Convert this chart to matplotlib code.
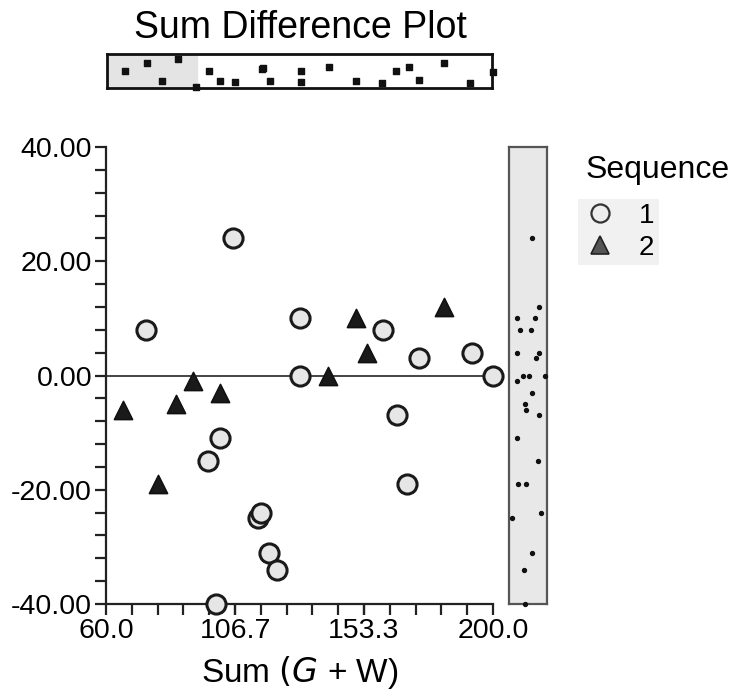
import matplotlib
matplotlib.use("Agg")
import matplotlib.pyplot as plt
from matplotlib.lines import Line2D
import numpy as np

plt.rcParams['font.family'] = ['Liberation Sans', 'DejaVu Sans']

# ---- data ----
seq1_sum = [74.4, 106.1, 130.2, 130.2, 160.3, 173.4, 192.4, 200.0, 165.2,
            169.0, 101.2, 97.0, 115.1, 116.1, 119.0, 122.0, 99.8]
seq1_diff = [8, 24, 10, 0, 8, 3, 4, 0, -7, -19, -11, -15, -25, -24, -31, -34, -40]

seq2_sum = [91.4, 101.2, 140.2, 150.3, 154.3, 182.3, 66.3, 85.3, 78.9]
seq2_diff = [-1, -3, 0, 10, 4, 12, -6, -5, -19]

# marginal rug on top (Sum values with vertical jitter, fraction from top)
rug_top_sum = [66.5, 74.7, 79.9, 85.8, 92.2, 97.0, 101.2, 106.7, 116.3, 116.9,
               119.3, 130.5, 130.5, 140.6, 150.5, 160.1, 165.2, 169.7, 173.6,
               182.4, 191.9, 200.5]
rug_top_jit = [0.50, 0.27, 0.80, 0.15, 0.96, 0.50, 0.80, 0.83, 0.45, 0.42,
               0.78, 0.50, 0.82, 0.37, 0.78, 0.84, 0.50, 0.37, 0.77, 0.25,
               0.84, 0.54]

# marginal rug on right (Difference values with horizontal jitter)
rug_right_diff = [24, 12, 10, 10, 8, 8, 4, 4, 3, -1, 0, 0, 0, -3, -5, -6, -7,
                  -11, -15, -19, -19, -25, -24, -31, -34, -40]
rug_right_jit = [0.60, 0.80, 0.20, 0.68, 0.29, 0.58, 0.20, 0.80, 0.71, 0.21,
                 0.36, 0.53, 0.94, 0.60, 0.42, 0.45, 0.79, 0.21, 0.76, 0.24,
                 0.45, 0.07, 0.85, 0.60, 0.40, 0.42]

x_major = [60.0, 106.7, 153.3, 200.0]
x_major_labels = ["60.0", "106.7", "153.3", "200.0"]
y_major = [40, 20, 0, -20, -40]
y_major_labels = ["40.00", "20.00", "0.00", "-20.00", "-40.00"]

fig = plt.figure(figsize=(7.38, 6.96), dpi=100)
W, H = 738, 696

def fx(px):
    return px / W

def fy(py):
    return 1 - py / H

# ---- main axes ----
ax = fig.add_axes([fx(106), fy(604), (493 - 106) / W, (604 - 147) / H])
ax.set_xlim(60, 200)
ax.set_ylim(-40, 40)
for s in ['top', 'right']:
    ax.spines[s].set_visible(False)
for s in ['left', 'bottom']:
    ax.spines[s].set_linewidth(1.6)
    ax.spines[s].set_color('#222222')

ax.axhline(0, color='#444444', lw=1.4, zorder=1)

ax.scatter(seq1_sum, seq1_diff, s=190, marker='o', facecolor='#e6e6e6',
           edgecolor='#1a1a1a', linewidths=2.2, zorder=3, clip_on=False)
ax.scatter(seq2_sum, seq2_diff, s=170, marker='^', facecolor='#1a1a1a',
           edgecolor='#111111', linewidths=1.2, zorder=3, clip_on=False)

ax.set_xticks(x_major)
ax.set_xticklabels(x_major_labels)
ax.set_xticks(np.linspace(60, 200, 16), minor=True)
ax.set_yticks(y_major)
ax.set_yticklabels(y_major_labels)
ax.set_yticks(np.arange(-40, 41, 4), minor=True)
ax.tick_params(which='both', direction='out', length=8, width=1.6,
               color='#222222', labelsize=20.5, pad=2)
ax.set_xlabel('Sum $(\\mathit{G}$ + W)', fontsize=24, labelpad=7)

# ---- top marginal strip ----
axt = fig.add_axes([fx(107), fy(88), (492 - 107) / W, (88 - 54) / H])
axt.set_xlim(60, 200)
axt.set_ylim(1, 0)
axt.axvspan(60, 92.6, color='#e4e4e4', zorder=0)
axt.set_xticks([])
axt.set_yticks([])
for s in axt.spines.values():
    s.set_linewidth(2.0)
    s.set_color('#111111')
axt.scatter(rug_top_sum, rug_top_jit, s=14, marker='s', color='#111111',
            zorder=3, clip_on=False)

# ---- right marginal strip ----
axr = fig.add_axes([fx(509), fy(604), (547 - 509) / W, (604 - 147) / H])
axr.set_facecolor('#e8e8e8')
axr.set_ylim(-40, 40)
axr.set_xlim(0, 1)
axr.set_xticks([])
axr.set_yticks([])
for s in axr.spines.values():
    s.set_linewidth(1.6)
    s.set_color('#555555')
axr.scatter(rug_right_jit, rug_right_diff, s=8, marker='o', color='#111111',
            zorder=3, clip_on=False)

# ---- title ----
fig.text(fx(300), fy(28), 'Sum Difference Plot', fontsize=27,
         ha='center', va='center')

# ---- legend ----
h1 = Line2D([], [], ls='none', marker='o', markersize=13,
            markerfacecolor='#eeeeee', markeredgecolor='#333333',
            markeredgewidth=1.6)
h2 = Line2D([], [], ls='none', marker='^', markersize=13,
            markerfacecolor='#555555', markeredgecolor='#222222',
            markeredgewidth=1.2)
fig.text(fx(586), fy(170), 'Sequence', fontsize=23, ha='left', va='center')
leg = fig.legend([h1, h2], ['1', '2'], loc='upper left',
                 bbox_to_anchor=(fx(578), fy(199)), frameon=True,
                 fontsize=20, handlelength=1.3, handletextpad=0.75,
                 labelspacing=0.2, borderpad=0.15, borderaxespad=0)
leg.get_frame().set_facecolor('#eeeeee')
leg.get_frame().set_edgecolor('none')
leg.get_frame().set_boxstyle('square', pad=0)

fig.savefig('out.png', dpi=100)
